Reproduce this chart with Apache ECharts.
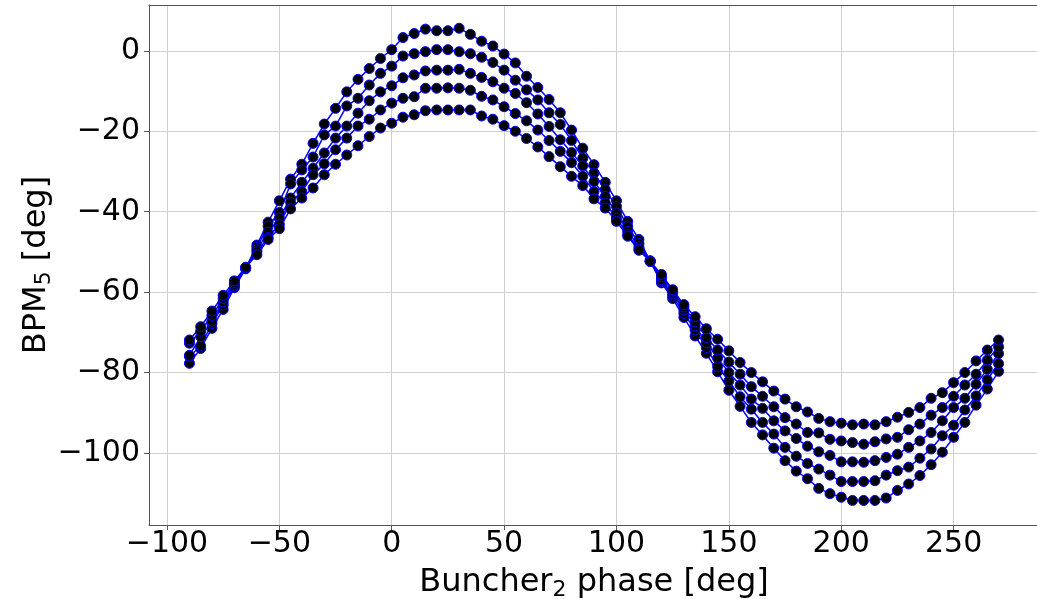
<!DOCTYPE html>
<html>
<head>
<meta charset="utf-8">
<script src="https://cdn.jsdelivr.net/npm/echarts@6/dist/echarts.min.js"></script>
<style>
html,body{margin:0;padding:0;background:#fff;}
#chart{width:1037px;height:599px;}
</style>
</head>
<body>
<div id="chart"></div>
<script>
const phases = [-90,-85,-80,-75,-70,-65,-60,-55,-50,-45,-40,-35,-30,-25,-20,-15,-10,-5,0,5,10,15,20,25,30,35,40,45,50,55,60,65,70,75,80,85,90,95,100,105,110,115,120,125,130,135,140,145,150,155,160,165,170,175,180,185,190,195,200,205,210,215,220,225,230,235,240,245,250,255,260,265,270];

const bpmA = [-77.7,-74.0,-69.0,-64.3,-58.9,-54.2,-48.3,-42.6,-37.3,-31.9,-28.2,-23.0,-18.2,-14.3,-10.2,-7.1,-4.4,-1.9,0.3,3.3,4.3,5.4,5.0,5.0,5.6,4.1,2.4,1.2,-0.8,-3.0,-6.3,-9.1,-12.1,-15.4,-19.7,-24.2,-28.3,-32.7,-37.3,-42.4,-46.9,-52.3,-57.7,-61.6,-66.3,-70.9,-75.2,-79.8,-84.4,-88.4,-92.4,-95.5,-98.8,-101.9,-104.5,-106.4,-108.8,-110.1,-111.0,-111.8,-111.8,-111.8,-111.2,-109.3,-107.7,-105.6,-102.9,-99.8,-96.1,-92.4,-88.1,-84.1,-79.7];

const bpmB = [-76.0,-73.4,-67.8,-63.2,-58.5,-54.1,-48.9,-43.6,-40.2,-33.1,-29.6,-26.4,-20.9,-18.7,-13.7,-11.8,-8.5,-5.6,-3.8,-1.3,-0.7,-0.2,0.3,0.3,-0.2,-0.7,-1.6,-2.9,-4.8,-7.3,-9.7,-12.2,-15.4,-18.3,-22.3,-26.7,-30.4,-34.5,-38.7,-43.6,-47.9,-52.2,-57.3,-61.0,-65.3,-69.4,-73.8,-78.5,-82.1,-86.0,-89.1,-92.4,-95.3,-98.6,-100.8,-102.6,-104.0,-105.5,-107.1,-107.1,-107.1,-106.9,-105.5,-104.4,-103.5,-101.3,-99.0,-95.7,-93.1,-89.3,-85.8,-81.8,-77.8];

const bpmC = [-75.7,-71.1,-67.2,-62.4,-58.1,-54.0,-49.5,-45.1,-41.6,-36.6,-32.7,-29.2,-25.4,-21.7,-18.7,-15.5,-12.4,-10.2,-8.7,-6.7,-6.0,-5.0,-4.8,-4.8,-4.6,-5.6,-6.6,-7.7,-9.3,-10.6,-12.9,-15.7,-18.8,-22.1,-25.3,-28.6,-32.5,-36.2,-40.3,-44.9,-48.7,-52.3,-56.9,-60.4,-64.4,-68.4,-72.6,-76.4,-80.0,-83.1,-86.6,-88.9,-92.0,-94.5,-96.4,-98.3,-99.7,-100.6,-102.2,-102.2,-102.3,-101.9,-101.1,-100.3,-98.6,-97.0,-94.9,-92.0,-88.7,-86.4,-82.9,-79.2,-75.3];

const bpmD = [-72.7,-69.7,-65.8,-61.6,-57.6,-54.0,-50.0,-46.4,-43.2,-37.7,-35.0,-30.8,-28.1,-24.6,-21.7,-18.7,-17.0,-14.7,-13.0,-11.8,-11.4,-9.3,-9.3,-9.2,-9.3,-9.8,-11.3,-12.2,-13.9,-15.6,-17.4,-19.7,-22.3,-25.0,-27.8,-31.2,-35.0,-37.8,-41.6,-45.7,-49.3,-52.4,-56.2,-59.8,-63.7,-67.4,-71.3,-74.4,-77.4,-80.4,-83.5,-85.9,-88.5,-91.2,-92.8,-94.9,-95.0,-96.6,-97.0,-97.4,-97.8,-97.2,-96.5,-96.1,-94.2,-92.8,-90.6,-88.7,-85.9,-83.1,-80.4,-76.9,-73.6];

const bpmE = [-71.9,-68.6,-64.7,-60.8,-57.2,-53.8,-50.7,-46.9,-44.2,-39.3,-36.6,-34.1,-30.8,-28.2,-25.9,-23.6,-21.3,-19.2,-18.0,-16.5,-15.9,-14.9,-14.7,-14.7,-14.7,-14.7,-16.2,-17.0,-18.6,-20.0,-21.8,-23.9,-26.3,-28.8,-31.2,-33.5,-36.8,-39.1,-42.4,-46.1,-49.6,-52.3,-55.6,-59.4,-63.1,-66.1,-69.1,-71.7,-74.6,-77.5,-80.0,-82.3,-84.6,-86.6,-88.5,-89.8,-91.4,-92.2,-92.6,-93.0,-92.8,-93.0,-92.2,-91.1,-89.9,-88.7,-86.4,-85.0,-82.5,-80.0,-77.1,-74.4,-71.9];

const allSeries = [bpmA, bpmB, bpmC, bpmD, bpmE];

const FONT = 'DejaVu Sans';
const SPINE = '#555';
function minusFmt(v) { return String(v).replace('-', '\u2212'); }

const chart = echarts.init(document.getElementById('chart'), null, {renderer: 'canvas'});

chart.setOption({
  animation: false,
  backgroundColor: '#ffffff',
  grid: {left: 149, top: 5, width: 890, height: 520, show: false, containLabel: false, outerBoundsMode: 'none'},
  xAxis: [{
    type: 'value', min: -108, max: 288, splitNumber: 8,
    name: '{a|Buncher}{s|2}{a| phase [deg]}',
    nameLocation: 'middle', nameGap: 40, nameMoveOverlap: false,
    nameTextStyle: {
      rich: {
        a: {fontFamily: FONT, fontSize: 32, color: '#000', lineHeight: 36},
        s: {fontFamily: FONT, fontSize: 22, color: '#000', lineHeight: 22, verticalAlign: 'bottom'}
      }
    },
    axisLine: {show: true, onZero: false, lineStyle: {color: SPINE, width: 1}},
    axisTick: {show: true, inside: false, length: 5, lineStyle: {color: SPINE}},
    axisLabel: {fontFamily: FONT, fontSize: 30, color: '#000', margin: 4, showMinLabel: false, showMaxLabel: false, formatter: minusFmt},
    splitLine: {show: true, lineStyle: {color: '#d0d0d0', width: 1}}
  }, {
    type: 'value', min: -108, max: 288, position: 'top',
    axisLine: {show: true, onZero: false, lineStyle: {color: SPINE, width: 1}},
    axisTick: {show: false}, axisLabel: {show: false}, splitLine: {show: false}
  }],
  yAxis: {
    type: 'value', min: -117.9, max: 11.4, splitNumber: 6,
    name: '{a|BPM}{s|5}{a| [deg]}',
    nameLocation: 'middle', nameGap: 94, nameRotate: 90, nameMoveOverlap: false,
    nameTextStyle: {
      rich: {
        a: {fontFamily: FONT, fontSize: 32, color: '#000', lineHeight: 36},
        s: {fontFamily: FONT, fontSize: 22, color: '#000', lineHeight: 22, verticalAlign: 'bottom'}
      }
    },
    axisLine: {show: true, onZero: false, lineStyle: {color: SPINE, width: 1}},
    axisTick: {show: true, inside: false, length: 5, lineStyle: {color: SPINE}},
    axisLabel: {fontFamily: FONT, fontSize: 30, color: '#000', margin: 9, showMinLabel: false, showMaxLabel: false, formatter: minusFmt},
    splitLine: {show: true, lineStyle: {color: '#d0d0d0', width: 1}}
  },
  series: allSeries.map(function (vals) {
    return {
      type: 'line',
      xAxisIndex: 0,
      data: phases.map(function (p, i) { return [p, vals[i]]; }),
      symbol: 'circle',
      symbolSize: 10,
      showSymbol: true,
      lineStyle: {color: '#0000ff', width: 1.5},
      itemStyle: {color: '#000000', borderColor: '#0000ff', borderWidth: 1},
      emphasis: {disabled: true},
      clip: false
    };
  })
});
</script>
</body>
</html>
